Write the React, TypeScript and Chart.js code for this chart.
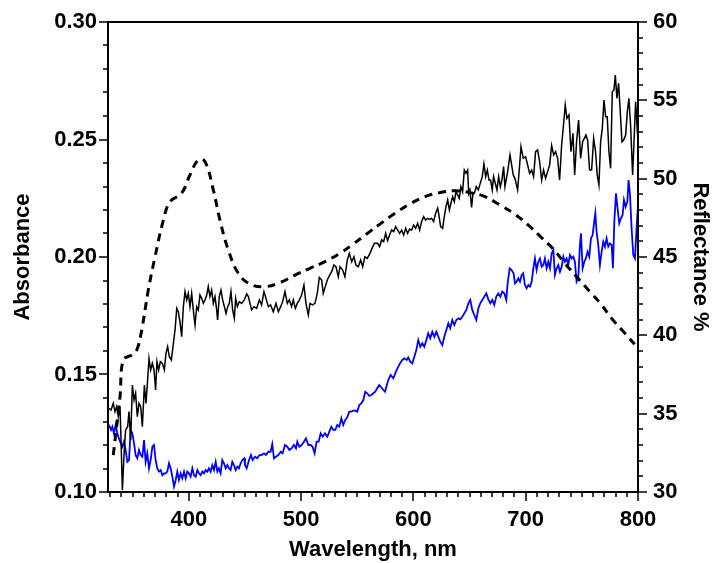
import React, { useEffect, useRef } from 'react';
import { Chart, registerables } from 'chart.js';

Chart.register(...registerables);

// Dashed curve: absorbance (left axis)
const dashedWl = [332.7, 338.7, 341.6, 349.1, 353.6, 358.0, 363.9, 369.9, 377.3, 383.2, 393.5, 401.0, 408.4, 414.4, 421.8, 427.7, 435.1, 444.0, 454.4, 467.8, 481.2, 494.5, 507.9, 521.2, 534.6, 546.4, 558.3, 570.2, 583.6, 596.9, 610.3, 623.6, 637.0, 650.4, 663.7, 677.1, 690.4, 702.3, 714.2, 724.5, 734.9, 745.3, 757.2, 767.6, 776.5, 788.4, 800.0];
const absorbance = [0.1157, 0.1406, 0.1562, 0.1583, 0.1604, 0.1689, 0.1860, 0.2001, 0.2157, 0.2235, 0.2271, 0.2349, 0.2413, 0.2406, 0.2285, 0.2157, 0.2030, 0.1931, 0.1885, 0.1874, 0.1891, 0.1923, 0.1952, 0.1980, 0.2016, 0.2055, 0.2098, 0.2140, 0.2186, 0.2226, 0.2257, 0.2274, 0.2282, 0.2274, 0.2257, 0.2221, 0.2182, 0.2136, 0.2082, 0.2034, 0.1973, 0.1916, 0.1852, 0.1796, 0.1739, 0.1675, 0.1613];

// Black solid curve: reflectance % (right axis)
const blackWl = [328.9, 330.7, 332.7, 334.2, 335.7, 337.2, 338.7, 339.6, 340.8, 342.5, 343.7, 345.5, 346.7, 348.2, 349.7, 351.2, 352.6, 354.1, 355.6, 357.1, 358.6, 360.4, 361.8, 363.0, 364.5, 366.0, 367.5, 369.0, 370.4, 371.6, 373.1, 374.6, 376.4, 378.2, 379.6, 381.1, 382.6, 384.4, 385.9, 387.7, 389.2, 390.6, 392.1, 393.6, 395.1, 396.6, 398.1, 399.5, 401.0, 402.5, 404.3, 405.5, 407.0, 408.4, 409.9, 411.4, 412.9, 414.4, 415.9, 417.3, 418.8, 420.3, 421.8, 423.3, 424.8, 425.6, 427.1, 428.6, 430.1, 431.6, 433.1, 434.6, 436.0, 437.5, 439.0, 440.5, 441.7, 443.2, 444.9, 447.0, 449.4,
  451.5, 453.0, 455.9, 458.0, 460.4, 462.8, 464.8, 466.9, 468.7, 470.8, 472.8, 475.2, 477.6, 479.7, 481.8, 483.5, 485.6, 487.7, 489.5, 491.5, 493.0, 494.8, 496.6, 498.4, 500.4, 502.5, 504.3, 506.4, 507.9, 510.2, 512.3, 514.4, 516.2, 518.3, 519.7, 521.5, 523.3, 525.1, 527.2, 529.2, 531.0, 533.1, 534.6, 537.0, 539.0, 541.1, 542.9, 545.0, 547.0, 548.8, 550.9, 553.0, 554.8, 556.8, 558.9, 561.3, 563.1, 565.2,
  568.1, 569.9, 571.7, 573.5, 575.3, 577.0, 578.8, 580.6, 582.4, 584.2, 586.0, 587.7, 589.5, 591.3, 593.1, 594.8, 596.6, 598.4, 600.2, 602.0, 603.8, 605.5, 607.3, 609.1, 610.9, 612.7, 614.4, 616.2, 618.0, 619.8, 621.6, 622.7, 624.2, 626.0, 627.5, 629.0, 630.5, 632.0, 633.4, 634.9, 636.4, 637.9, 639.4, 640.8, 642.3, 643.8, 645.3, 646.8, 648.3, 649.2, 650.3, 651.8, 653.0, 654.2, 656.0, 657.8, 659.5, 661.3, 662.8, 664.3, 665.8, 667.3, 668.7, 670.2, 671.4, 672.9, 674.4, 675.9, 677.4, 678.8, 680.3,
  681.5, 683.9, 686.0, 687.5, 688.9, 690.4, 692.8, 694.6, 695.8, 697.8, 699.9, 701.7, 703.5, 705.3, 707.0, 708.8, 710.6, 712.4, 714.2, 715.9, 717.7, 719.5, 721.3, 723.1, 724.9, 726.6, 728.4, 730.2, 732.0, 733.8, 735.2, 736.7, 738.5, 740.3, 742.1, 743.6, 745.3, 747.1, 748.9, 750.7, 752.2, 753.6, 755.1, 756.9, 758.7, 760.5, 762.2, 763.7, 765.2, 766.7, 768.2, 769.7, 771.2, 772.6, 774.1, 775.6, 777.1, 778.6, 779.8, 781.2, 782.7, 784.2, 785.7, 787.2, 789.0, 790.5, 791.9, 793.4, 795.2, 797.9, 799.7];
const blackRefl = [35.34, 35.23, 35.66, 35.13, 35.45, 34.81, 35.45, 33.32, 30.13, 32.68, 33.96, 34.17, 35.13, 33.32, 36.83, 35.87, 36.30, 34.81, 35.66, 35.45, 34.17, 36.83, 35.66, 36.83, 38.53, 37.79, 38.21, 37.79, 36.51, 38.32, 37.79, 38.32, 38.21, 37.79, 38.85, 39.28, 38.64, 38.43, 39.28, 40.34, 41.72, 41.51, 40.87, 39.91, 41.83, 42.79, 42.26, 42.68, 41.83, 42.68, 41.40, 40.66, 41.83, 41.62, 42.57, 42.36, 42.04, 42.26, 42.57, 43.11, 42.47, 42.89, 42.04, 42.47, 41.62, 40.98, 42.47, 42.89, 42.26, 41.83, 41.40, 41.83, 42.04, 42.79, 41.62, 41.09, 42.36, 41.83, 42.15, 42.04, 42.26,
  42.64, 42.47, 41.62, 41.83, 41.72, 42.26, 41.94, 42.79, 42.36, 41.83, 41.94, 41.51, 42.04, 41.51, 41.83, 42.15, 42.79, 42.04, 42.26, 41.83, 42.26, 41.72, 42.04, 42.26, 42.57, 43.21, 42.04, 41.30, 42.04, 41.94, 42.04, 42.68, 43.70, 43.53, 42.68, 43.11, 43.53, 43.79, 44.06, 44.49, 44.38, 43.74, 44.38, 44.17, 43.74, 44.81, 45.23, 44.70, 45.02, 44.49, 44.38, 44.81, 44.38, 45.02, 44.91, 45.23, 45.55, 45.87,
  45.87, 45.66, 46.09, 45.98, 46.51, 46.04, 46.40, 46.72, 46.62, 46.94, 46.72, 46.51, 46.72, 46.40, 46.83, 46.51, 46.77, 46.72, 47.04, 46.83, 47.15, 46.72, 47.26, 47.57, 47.36, 47.47, 47.40, 47.47, 47.26, 47.79, 48.11, 47.68, 46.94, 46.83, 47.57, 48.21, 48.64, 48.00, 48.43, 48.85, 48.53, 49.17, 48.96, 48.74, 49.49, 49.17, 50.55, 50.34, 50.55, 49.06, 49.28, 48.17, 49.06, 49.06, 49.49, 49.28, 49.70, 50.13, 50.94, 50.13, 50.55, 49.91, 49.91, 49.28, 50.13, 49.70, 49.28, 50.13, 49.49, 49.91, 50.77,
  49.49, 50.45, 51.51, 50.87, 50.23, 50.02, 49.28, 50.87, 52.04, 51.30, 51.40, 50.87, 50.34, 50.55, 50.13, 51.72, 51.83, 51.08, 49.91, 50.55, 50.02, 50.45, 50.87, 52.11, 51.51, 51.72, 51.30, 49.91, 52.15, 53.53, 54.70, 53.85, 54.06, 51.72, 52.89, 50.23, 52.36, 53.74, 51.30, 52.36, 52.57, 52.79, 52.47, 50.55, 50.55, 52.57, 51.72, 50.23, 49.60, 52.36, 53.21, 55.02, 53.96, 53.96, 51.72, 50.66, 55.55, 55.66, 56.62, 55.13, 56.08, 54.28, 52.36, 52.47, 52.79, 54.28, 55.13, 53.42, 50.23, 54.91, 52.68];

// Blue solid curve: reflectance % (right axis)
const blueWl = [328.9, 330.7, 331.9, 333.3, 334.8, 336.3, 337.8, 339.3, 340.8, 342.2, 343.7, 345.2, 346.7, 348.2, 349.7, 351.2, 352.6, 354.1, 355.6, 357.1, 358.6, 360.1, 361.5, 363.0, 364.5, 366.0, 367.5, 369.0, 370.4, 371.9, 373.4, 374.9, 376.4, 377.9, 379.3, 380.8, 382.3, 383.8, 385.3, 386.8, 388.3, 389.7, 391.2, 392.7, 394.2, 395.7, 397.2, 398.6, 400.1, 401.6, 403.1, 404.6, 406.1, 407.6, 409.0, 410.5, 412.0, 413.5, 415.0, 416.5, 417.9, 419.4, 420.9, 422.4, 423.9, 425.4, 426.8, 428.3, 429.8, 431.3, 432.8, 434.3, 435.7, 437.2, 438.7, 440.2, 441.7, 443.2, 444.7, 446.1, 447.6, 449.4,
  450.0, 451.5, 453.6, 455.3, 456.8, 458.9, 461.0, 462.8, 464.8, 466.9, 468.7, 470.8, 472.8, 474.3, 475.8, 477.6, 479.7, 481.8, 483.5, 485.6, 487.7, 489.5, 491.5, 493.6, 495.4, 496.6, 498.4, 500.4, 502.5, 504.3, 506.4, 508.5, 510.2, 512.0, 513.8, 515.6, 517.4, 519.1, 521.2, 523.3, 525.1, 526.9, 528.6, 530.4, 532.2, 534.0, 535.8, 537.5, 539.3, 541.1, 542.9, 544.7, 546.5, 548.2, 550.0, 551.8, 553.6, 555.4, 557.1, 558.9, 560.7, 562.5, 564.3, 566.0, 567.8, 569.6,
  572.0, 574.7, 577.6, 579.7, 582.1, 585.1,
  588.0, 590.1, 591.9, 594.0, 595.4, 597.2, 599.0, 600.8, 602.6, 604.3, 606.1, 607.9, 609.7, 611.5, 613.2, 615.0, 616.8, 618.6, 620.4, 622.2, 623.9, 625.7, 627.5, 629.3, 631.1, 632.8, 634.6, 636.4, 638.2, 640.0, 641.7, 643.5, 645.3, 647.1, 648.9, 650.6, 652.4, 654.2, 656.0, 657.8, 659.5, 661.3, 663.1, 664.9, 666.7, 668.5, 670.2, 672.0, 673.8, 675.6, 677.4, 679.1, 680.9, 682.7, 683.9, 685.7, 687.4, 689.2,
  690.4, 691.9, 693.4, 694.9, 696.4, 697.8, 699.3, 700.8, 702.3, 703.8, 705.3, 706.8, 708.2, 709.7, 711.2, 712.7, 714.2, 715.7, 717.1, 718.6, 720.1, 721.6, 723.1, 724.6, 726.0, 727.5, 729.0, 730.5, 732.0, 733.5, 734.9, 736.4, 737.9, 739.4, 740.9, 742.4, 743.8, 745.3, 746.8, 748.3, 749.2, 750.7, 752.2, 753.6, 755.1, 756.6, 758.1, 759.6, 760.8, 762.0, 763.1, 764.6, 766.1, 767.6, 769.1, 770.6, 772.0, 773.5, 775.0, 776.5, 777.7, 778.9, 780.4, 781.8, 783.3, 784.8, 786.3, 787.5, 789.0, 790.5, 791.6, 792.8, 794.3, 795.8, 797.3, 798.8, 800.0];
const blueRefl = [34.28, 33.96, 34.17, 33.74, 34.28, 33.74, 33.42, 33.11, 32.89, 33.21, 32.68, 31.93, 32.04, 33.96, 33.74, 33.11, 32.36, 32.15, 32.68, 32.36, 32.25, 33.32, 31.93, 32.47, 31.51, 32.04, 32.89, 33.00, 32.04, 31.51, 31.30, 31.40, 31.07, 31.19, 31.19, 31.30, 31.83, 31.51, 30.98, 30.34, 30.77, 31.30, 30.77, 31.19, 30.87, 31.30, 30.87, 31.30, 31.19, 30.98, 31.51, 31.07, 30.98, 31.40, 31.19, 31.07, 31.30, 31.19, 31.40, 31.30, 31.51, 31.30, 31.72, 31.40, 31.93, 31.30, 31.51, 31.19, 32.04, 31.83, 31.51, 31.72, 31.51, 31.40, 31.93, 31.72, 31.40, 31.62, 31.51, 31.83, 32.04, 32.15,
  31.72, 31.51, 32.04, 32.36, 32.04, 32.25, 32.15, 32.36, 32.36, 32.47, 32.36, 32.57, 32.57, 33.06, 32.15, 32.25, 32.36, 32.57, 32.47, 33.00, 32.89, 32.68, 32.79, 33.00, 32.79, 33.21, 32.89, 33.00, 33.21, 33.43, 33.00, 33.00, 32.89, 32.47, 33.21, 33.21, 33.74, 33.53, 33.74, 33.53, 33.85, 34.17, 33.96, 33.96, 34.28, 34.17, 34.70, 34.28, 34.60, 34.77, 35.13, 35.13, 35.19, 35.19, 35.13, 35.55, 35.66, 35.87, 36.40, 36.30, 36.13, 36.19, 36.30, 36.40, 36.62, 36.83,
  36.62, 36.40, 37.15, 37.47, 37.26, 37.79,
  38.21, 38.43, 38.53, 38.43, 38.59, 38.32, 38.21, 38.64, 39.06, 39.70, 39.27, 39.49, 39.27, 39.70, 40.13, 39.81, 40.23, 39.91, 40.23, 39.91, 39.60, 39.38, 39.91, 40.34, 40.77, 40.45, 40.98, 40.66, 40.98, 41.08, 41.02, 41.19, 41.40, 41.62, 42.04, 42.26, 41.62, 41.30, 40.98, 41.72, 42.04, 42.26, 42.47, 42.68, 42.30, 42.04, 42.26, 41.94, 42.47, 42.68, 42.47, 42.79, 42.68, 42.26, 43.32, 44.28, 44.17, 43.96,
  43.32, 43.42, 43.64, 43.42, 43.85, 43.96, 43.21, 43.00, 43.21, 43.11, 43.42, 44.28, 44.91, 44.17, 44.70, 44.91, 44.38, 44.49, 44.91, 44.28, 44.70, 44.28, 45.23, 45.45, 43.85, 44.28, 44.49, 44.06, 44.38, 45.02, 44.70, 44.91, 44.49, 45.13, 44.91, 45.02, 44.70, 43.42, 43.64, 45.77, 46.51, 44.28, 44.70, 44.91, 45.34, 45.02, 46.19, 46.40, 47.15, 47.79, 46.62, 45.77, 44.49, 45.34, 45.98, 45.66, 46.19, 45.66, 45.87, 45.77, 44.28, 47.26, 49.06, 48.10, 47.15, 47.47, 47.68, 48.64, 48.21, 48.53, 49.91, 49.06, 46.83, 45.13, 44.91, 46.94, 48.32];

// Axis ranges and tick steps
const xRange = [328, 800];
const xMajor = 100;
const xMinor = 10;
const absRange = [0.1, 0.3];
const absMajor = 0.05;
const absMinor = 0.01;
const reflRange = [30, 60];
const reflMajor = 5;
const reflMinor = 1;

const FONT = "'Liberation Sans', Arial, Helvetica, sans-serif";

const framePlugin = {
  id: 'frameTicks',
  afterDraw(chart: any) {
    const { ctx, chartArea: a, scales } = chart;
    ctx.save();
    ctx.strokeStyle = '#000';
    ctx.lineWidth = 1.5;
    ctx.beginPath();
    const x0 = Math.ceil(xRange[0] / xMinor) * xMinor;
    for (let v = x0; v <= xRange[1] + 1e-6; v += xMinor) {
      const px = Math.round(scales.x.getPixelForValue(v));
      const major = Math.abs(v / xMajor - Math.round(v / xMajor)) < 1e-6;
      ctx.moveTo(px, a.bottom);
      ctx.lineTo(px, a.bottom + (major ? 9 : 5));
    }
    const nAbs = Math.round((absRange[1] - absRange[0]) / absMinor);
    for (let i = 0; i <= nAbs; i++) {
      const v = absRange[0] + i * absMinor;
      const py = Math.round(scales.y.getPixelForValue(v));
      const major = Math.abs(v / absMajor - Math.round(v / absMajor)) < 1e-6;
      ctx.moveTo(a.left, py);
      ctx.lineTo(a.left - (major ? 9 : 5), py);
    }
    for (let v = reflRange[0]; v <= reflRange[1]; v += reflMinor) {
      const py = Math.round(scales.y1.getPixelForValue(v));
      const major = v % reflMajor === 0;
      ctx.moveTo(a.right, py);
      ctx.lineTo(a.right + (major ? 9 : 5), py);
    }
    ctx.stroke();
    ctx.lineWidth = 2;
    ctx.strokeRect(a.left, a.top, a.right - a.left, a.bottom - a.top);
    ctx.restore();
  },
};

export default function App() {
  const ref = useRef<HTMLCanvasElement | null>(null);

  useEffect(() => {
    if (!ref.current) return;
    Chart.defaults.font.family = FONT;
    Chart.defaults.color = '#000';
    const tickFont = { family: FONT, size: 22, weight: 'bold' as const };
    const titleFont = { family: FONT, size: 22, weight: 'bold' as const, lineHeight: 1 };
    const fixV = (w: number) => (s: any) => { s.width = w; s.paddingTop = 0; s.paddingBottom = 0; };

    const chart = new Chart(ref.current, {
      type: 'line',
      data: {
        datasets: [
          {
            label: 'Absorbance',
            data: dashedWl.map((x, i) => ({ x, y: absorbance[i] })),
            yAxisID: 'y',
            borderColor: '#000',
            borderWidth: 3,
            borderDash: [8, 6],
            borderCapStyle: 'butt',
            pointRadius: 0,
            tension: 0.4,
            fill: false,
          },
          {
            label: 'Reflectance (black)',
            data: blackWl.map((x, i) => ({ x, y: blackRefl[i] })),
            yAxisID: 'y1',
            borderColor: '#000',
            borderWidth: 1.5,
            pointRadius: 0,
            tension: 0,
            fill: false,
          },
          {
            label: 'Reflectance (blue)',
            data: blueWl.map((x, i) => ({ x, y: blueRefl[i] })),
            yAxisID: 'y1',
            borderColor: '#0000ff',
            borderWidth: 1.8,
            pointRadius: 0,
            tension: 0,
            fill: false,
          },
        ],
      },
      options: {
        responsive: false,
        animation: false,
        events: [],
        layout: { padding: { top: 22, left: 0, right: 0, bottom: 0 } },
        plugins: { legend: { display: false }, tooltip: { enabled: false } },
        scales: {
          x: {
            type: 'linear',
            position: 'bottom',
            min: xRange[0],
            max: xRange[1],
            grid: { display: false, drawTicks: false },
            border: { display: false },
            ticks: { stepSize: xMajor, includeBounds: false, padding: 15, color: '#000', font: tickFont, maxRotation: 0, autoSkip: false },
            title: { display: true, text: 'Wavelength, nm', color: '#000', font: titleFont, padding: { top: 0, bottom: 2 } },
            afterFit: (s: any) => { s.height = 71; s.paddingLeft = 0; s.paddingRight = 0; },
          },
          y: {
            type: 'linear',
            position: 'left',
            min: absRange[0],
            max: absRange[1],
            grid: { display: false, drawTicks: false },
            border: { display: false },
            ticks: { stepSize: absMajor, padding: 11, color: '#000', font: tickFont, callback: (v: any) => Number(v).toFixed(2) },
            title: { display: true, text: 'Absorbance', color: '#000', font: titleFont, padding: { top: 12, bottom: 0 } },
            afterFit: fixV(108),
          },
          y1: {
            type: 'linear',
            position: 'right',
            min: reflRange[0],
            max: reflRange[1],
            grid: { display: false, drawTicks: false },
            border: { display: false },
            ticks: { stepSize: reflMajor, padding: 15, color: '#000', font: tickFont },
            title: { display: true, text: 'Reflectance %', color: '#000', font: titleFont, padding: { top: 1, bottom: 0 } },
            afterFit: fixV(74),
          },
        },
      },
      plugins: [framePlugin],
    } as any);
    return () => chart.destroy();
  }, []);

  return (
    <div style={{ position: 'absolute', left: 0, top: 0, width: 712, height: 563, background: '#fff' }}>
      <canvas ref={ref} width={712} height={563} />
    </div>
  );
}
